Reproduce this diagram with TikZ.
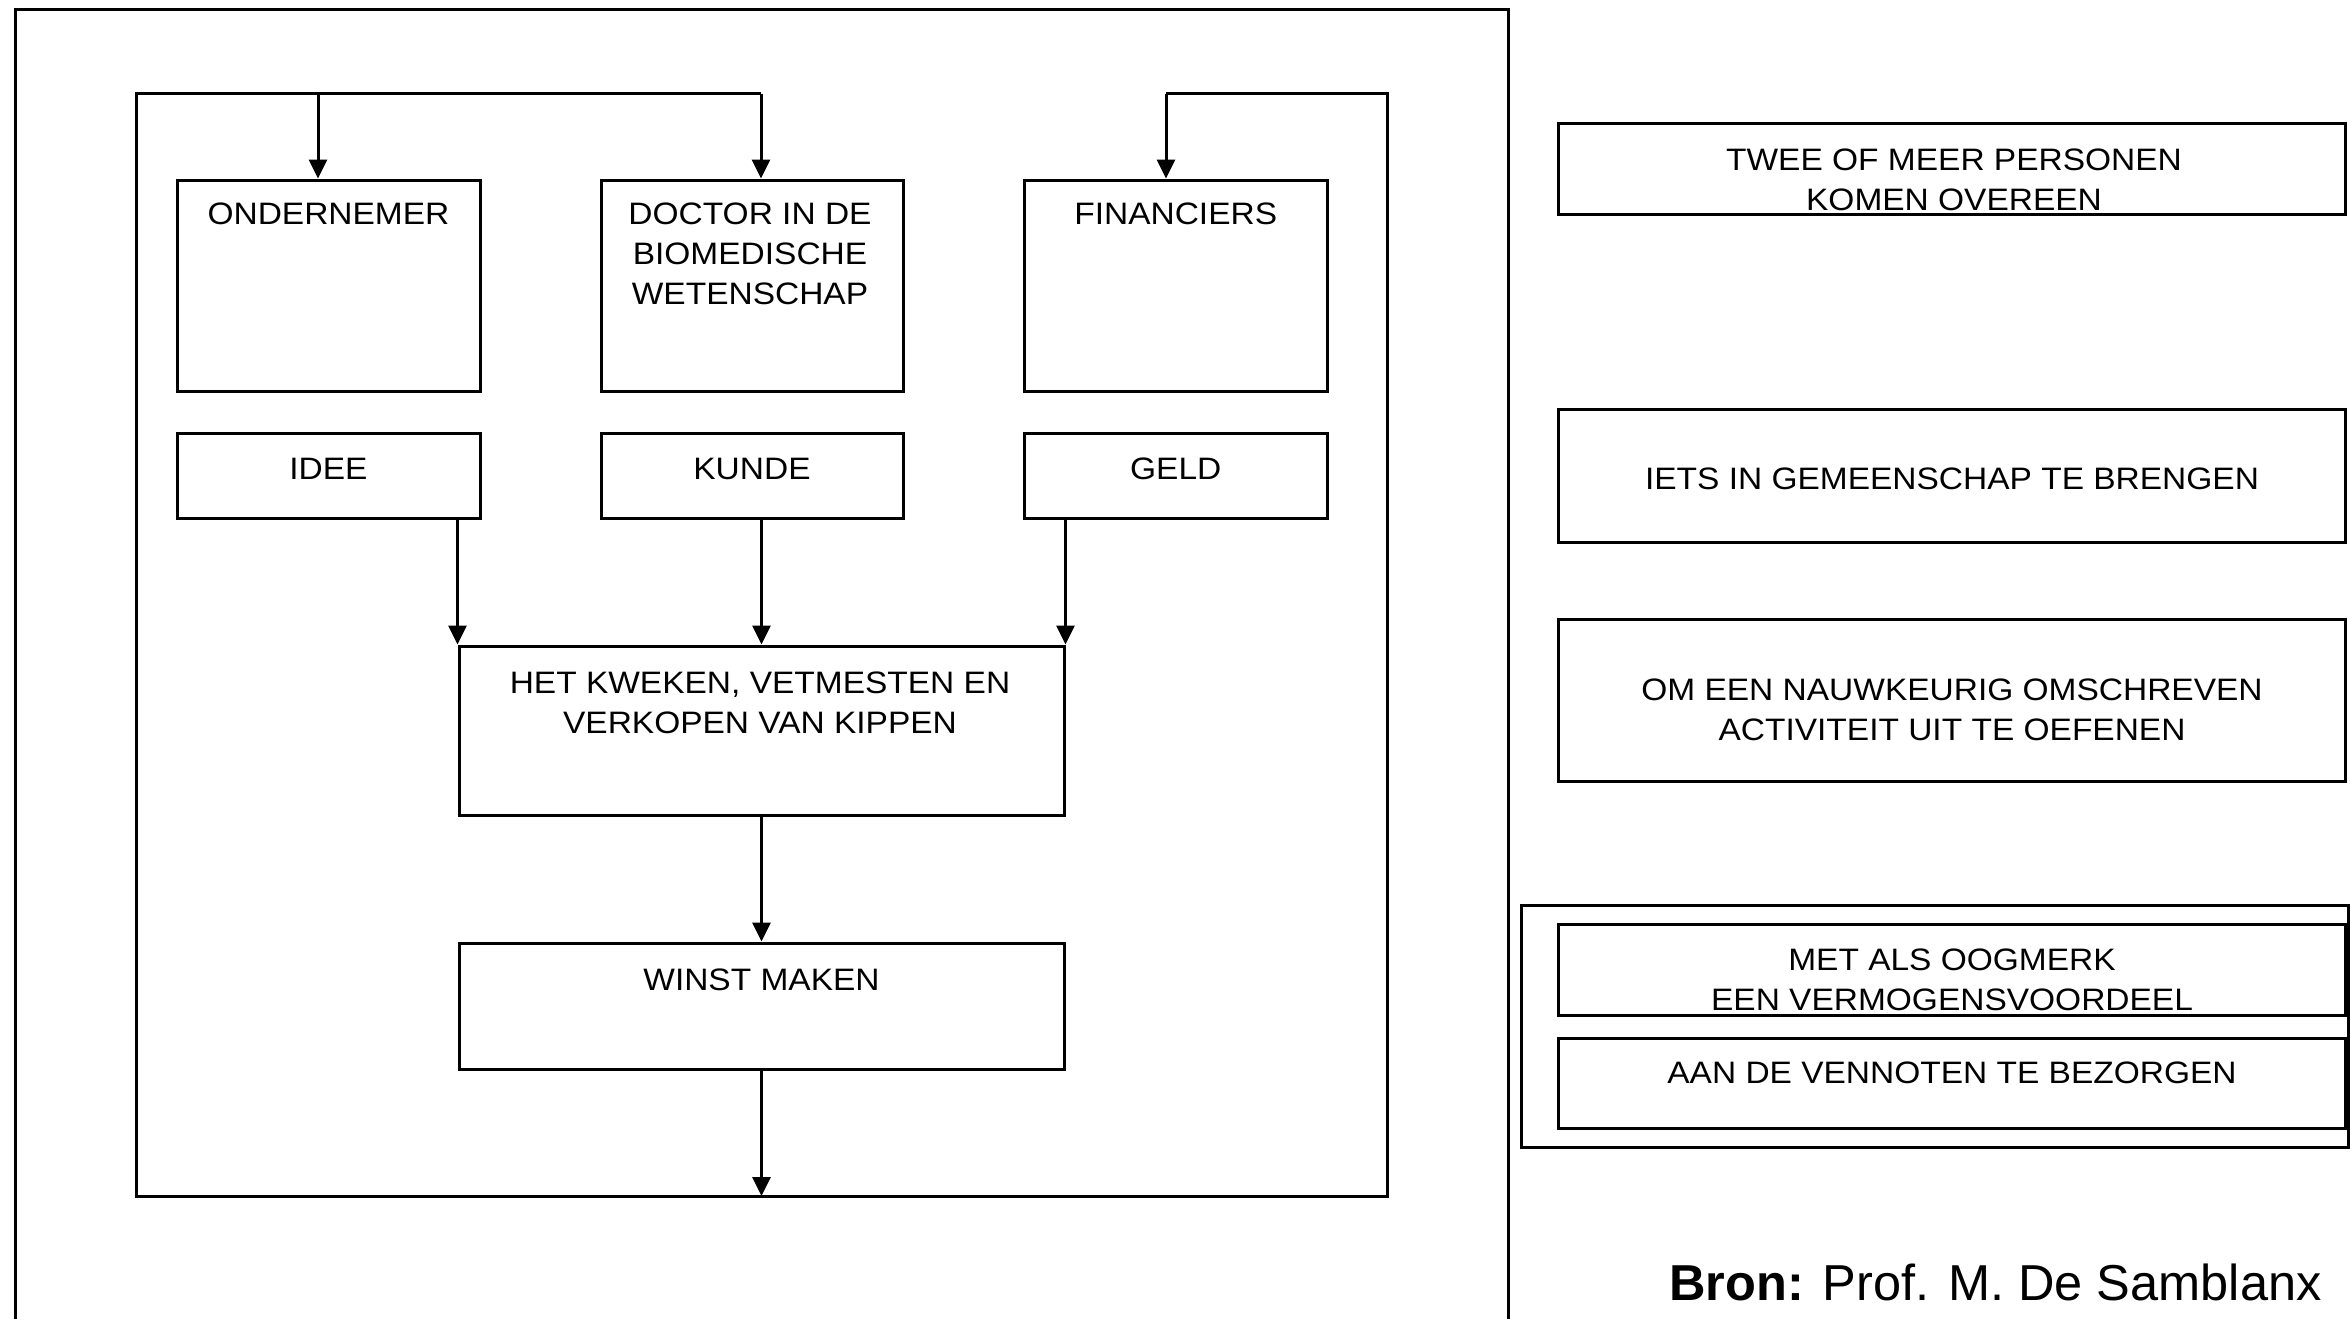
\documentclass[tikz,border=0pt]{standalone}
\usepackage{fontspec}
\setmainfont{Liberation Sans}
\newfontfamily\lblfont[FakeStretch=1.08]{Liberation Sans}
\usetikzlibrary{arrows.meta}
\begin{document}
\begin{tikzpicture}[x=1pt,y=-1pt,line width=3pt,
  box/.style={draw, rectangle, inner sep=0pt},
  lbl/.style={font=\lblfont\fontsize{31}{40}\selectfont, align=center, inner sep=0pt, anchor=north},
  arr/.style={-{Triangle[length=19pt,width=18pt]}}]
\useasboundingbox (0,0) rectangle (2350,1319);
\fill[white] (0,0) rectangle (2350,1319);
% outer frame (open at the bottom)
\draw (15,1340) -- (15,9.5) -- (1508,9.5) -- (1508,1340);
% left flow boxes
\node[box, minimum width=303pt, minimum height=211.5pt] (ond) at (328.5,285.75) {};
\node[box, minimum width=302pt, minimum height=211.5pt] (doc) at (752,285.75) {};
\node[box, minimum width=302.5pt, minimum height=211.5pt] (fin) at (1175.75,285.75) {};
\node[box, minimum width=303pt, minimum height=85pt] (idee) at (328.5,475.8) {};
\node[box, minimum width=302pt, minimum height=85pt] (kunde) at (752,475.8) {};
\node[box, minimum width=302.5pt, minimum height=85pt] (geld) at (1175.75,475.8) {};
\node[box, minimum width=605pt, minimum height=169.5pt] (het) at (761.5,730.75) {};
\node[box, minimum width=605pt, minimum height=126pt] (winst) at (761.5,1006) {};
% labels
\node[lbl] (tond) at (328.5,201.7) {ONDERNEMER};
\node[lbl] (tdoc) at (750,201.7) {DOCTOR IN DE\\BIOMEDISCHE\\WETENSCHAP};
\node[lbl] (tfin) at (1175.75,201.7) {FINANCIERS};
\node[lbl] (tidee) at (328.5,456.7) {IDEE};
\node[lbl] (tkunde) at (752,456.7) {KUNDE};
\node[lbl] (tgeld) at (1175.75,456.7) {GELD};
\node[lbl] (thet) at (760,670) {HET KWEKEN, VETMESTEN EN\\VERKOPEN VAN KIPPEN};
\node[lbl] (twinst) at (761.5,967) {WINST MAKEN};
% right boxes
\node[box, minimum width=787pt, minimum height=91pt] (twee) at (1952,169) {};
\node[box, minimum width=787pt, minimum height=133.5pt] (iets) at (1952,475.75) {};
\node[box, minimum width=787pt, minimum height=162pt] (om) at (1952,700) {};
\node[box, minimum width=827pt, minimum height=242pt] (grp) at (1934.5,1026) {};
\node[box, minimum width=787pt, minimum height=91pt] (met) at (1952,969.5) {};
\node[box, minimum width=787pt, minimum height=90pt] (aan) at (1952,1083) {};
\node[lbl] (ttwee) at (1954,147.7) {TWEE OF MEER PERSONEN\\KOMEN OVEREEN};
\node[lbl] (tiets) at (1952,466.3) {IETS IN GEMEENSCHAP TE BRENGEN};
\node[lbl] (tom) at (1952,677.7) {OM EEN NAUWKEURIG OMSCHREVEN\\ACTIVITEIT UIT TE OEFENEN};
\node[lbl] (tmet) at (1952,947.7) {MET ALS OOGMERK\\EEN VERMOGENSVOORDEEL};
\node[lbl] (taan) at (1952,1060.7) {AAN DE VENNOTEN TE BEZORGEN};
\node[anchor=base west, inner sep=0pt, font=\fontsize{50.5}{60}\selectfont] (bron) at (1668,1300) {\textbf{Bron:} Prof. M. De Samblanx};
% loop frame and connectors
\coordinate (lt) at (136,94);
\coordinate (lb) at (136,1196);
\coordinate (rt) at (1387,94);
\coordinate (rb) at (1387,1196);
\coordinate (a1) at (318,94);
\coordinate (a2) at (761,94);
\coordinate (a3) at (1166,94);
\coordinate (bot) at (761.5,1196);
\draw (a2) -- (lt) -- (lb) -- (rb) -- (rt) -- (a3);
\draw[arr] (a1) -- (a1 |- ond.north);
\draw[arr] (a2) -- (a2 |- doc.north);
\draw[arr] (a3) -- (a3 |- fin.north);
\draw[arr] (idee.south -| het.north west) -- (het.north west);
\draw[arr] (kunde.south -| het.north) -- (het.north);
\draw[arr] (geld.south -| het.north east) -- (het.north east);
\draw[arr] (het.south) -- (winst.north);
\draw[arr] (winst.south) -- (bot);
\end{tikzpicture}
\end{document}
